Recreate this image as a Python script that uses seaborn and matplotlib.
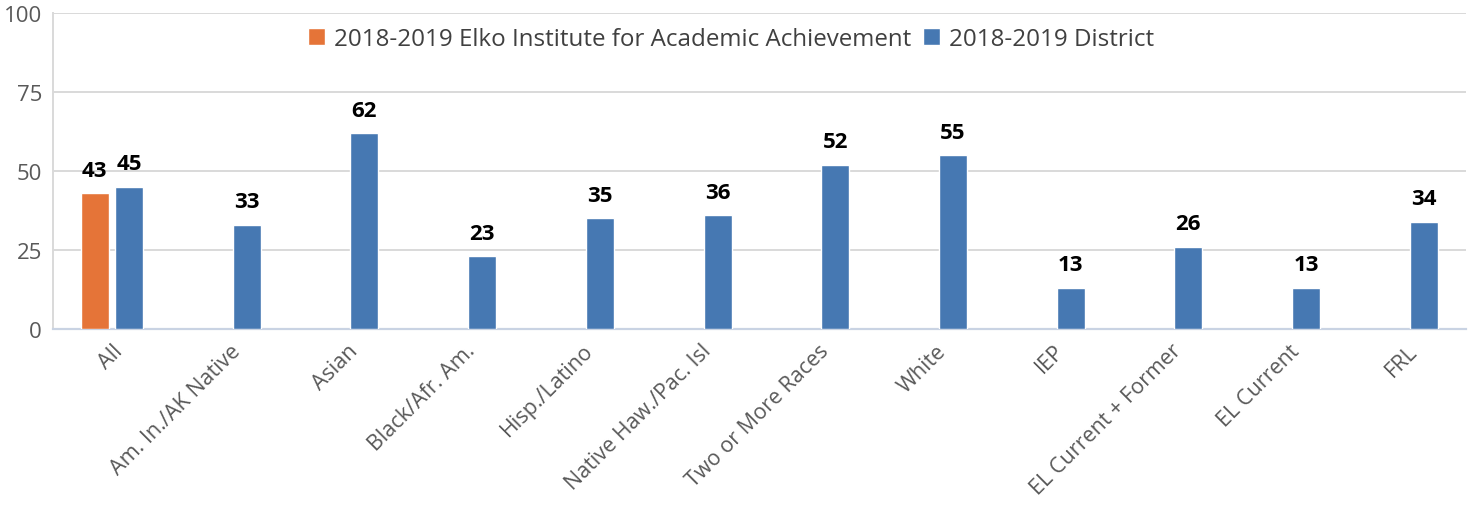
import pandas as pd
import matplotlib
matplotlib.use("Agg")
import matplotlib.pyplot as plt
import seaborn as sns

categories = ["All", "Am. In./AK Native", "Asian", "Black/Afr. Am.", "Hisp./Latino",
              "Native Haw./Pac. Isl", "Two or More Races", "White", "IEP",
              "EL Current + Former", "EL Current", "FRL"]
school_name = "2018-2019 Elko Institute for Academic Achievement"
district_name = "2018-2019 District"
school_vals = [43, None, None, None, None, None, None, None, None, None, None, None]
district_vals = [45, 33, 62, 23, 35, 36, 52, 55, 13, 26, 13, 34]

rows = []
for c, s, d in zip(categories, school_vals, district_vals):
    rows.append({"group": c, "series": school_name, "value": s})
    rows.append({"group": c, "series": district_name, "value": d})
df = pd.DataFrame(rows)

sns.set_style("white")
plt.rcParams["font.family"] = ["Open Sans", "DejaVu Sans"]

fig = plt.figure(figsize=(14.73, 5.06), dpi=100)
ax = fig.add_axes([0.036, 0.348, 0.959, 0.624])

sns.barplot(data=df, x="group", y="value", hue="series", order=categories,
            hue_order=[school_name, district_name],
            palette=["#e57438", "#4678b2"], saturation=1, width=0.58, gap=0.18,
            dodge=True, ax=ax, zorder=3)

# value labels
for cont in ax.containers:
    labels = ["" if (v != v) else "%d" % round(v) for v in cont.datavalues]
    ax.bar_label(cont, labels=labels, padding=9, fontsize=16,
                 fontweight="bold", color="black")

ax.set_ylim(0, 100)
ax.set_yticks([0, 25, 50, 75, 100])
ax.set_xlim(-0.5, len(categories) - 0.5)
ax.yaxis.grid(True, color="#d9d9d9", linewidth=1.4, zorder=0)
ax.set_axisbelow(True)
ax.set_xlabel("")
ax.set_ylabel("")
ax.tick_params(axis="y", labelsize=16, labelcolor="#595959", length=0, pad=8)
ax.tick_params(axis="x", labelsize=15.5, labelcolor="#595959", length=0, pad=8)
plt.setp(ax.get_xticklabels(), rotation=45, ha="right", rotation_mode="anchor")

for side in ["top", "right"]:
    ax.spines[side].set_visible(False)
ax.spines["left"].set_color("#d9d9d9")
ax.spines["left"].set_linewidth(1.4)
ax.spines["bottom"].set_color("#c9d3e3")
ax.spines["bottom"].set_linewidth(1.6)

leg = ax.legend(loc="upper center", bbox_to_anchor=(0.48, 1.025), ncol=2,
                frameon=False, fontsize=17.4, handlelength=0.7, handleheight=0.7,
                handletextpad=0.35, columnspacing=0.5)
for t in leg.get_texts():
    t.set_color("#404040")

fig.savefig("out.png", dpi=100)
